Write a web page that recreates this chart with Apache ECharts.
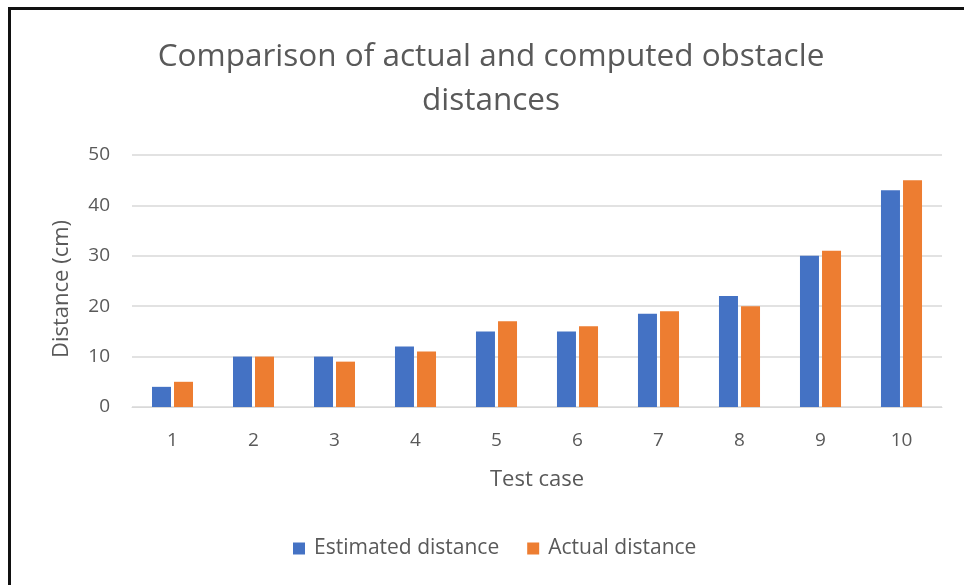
<!DOCTYPE html>
<html>
<head>
<meta charset="utf-8">
<script src="https://cdn.jsdelivr.net/npm/echarts@6/dist/echarts.min.js"></script>
<style>
  html, body { margin: 0; padding: 0; background: #fff; }
  #wrap { position: relative; width: 964px; height: 585px; overflow: hidden; background: #fff; }
  #frame { position: absolute; left: 8px; top: 7px; width: 1000px; height: 700px;
           border-top: 3px solid #111; border-left: 3px solid #111; box-sizing: border-box; }
  #chart { position: absolute; left: 0; top: 0; width: 964px; height: 585px; }
</style>
</head>
<body>
<div id="wrap">
  <div id="frame"></div>
  <div id="chart"></div>
</div>
<script>
// Test cases and measured distances (cm)
const testCases = ['1', '2', '3', '4', '5', '6', '7', '8', '9', '10'];
const estimatedDistance = [4, 10, 10, 12, 15, 15, 18.5, 22, 30, 43];
const actualDistance = [5, 10, 9, 11, 17, 16, 19, 20, 31, 45];
const yTicks = { min: 0, max: 50, interval: 10 };

const FONT = '"Open Sans", "Noto Sans", sans-serif';
const TEXT = '#595959';

const chart = echarts.init(document.getElementById('chart'), null, { renderer: 'canvas' });
chart.setOption({
  backgroundColor: 'transparent',
  animation: false,
  graphic: [
    {
      type: 'text',
      x: 491,
      y: 57,
      style: {
        text: 'Comparison of actual and computed obstacle',
        fontFamily: FONT, fontSize: 31.5, fill: TEXT,
        textAlign: 'center', textVerticalAlign: 'middle'
      }
    },
    {
      type: 'text',
      x: 491,
      y: 101,
      style: {
        text: 'distances',
        fontFamily: FONT, fontSize: 31.5, fill: TEXT,
        textAlign: 'center', textVerticalAlign: 'middle'
      }
    },
    {
      type: 'text',
      x: 62,
      y: 289,
      rotation: Math.PI / 2,
      style: {
        text: 'Distance (cm)',
        fontFamily: FONT, fontSize: 22, fill: TEXT,
        textAlign: 'center', textVerticalAlign: 'middle'
      }
    }
  ],
  legend: {
    bottom: 21,
    left: 288,
    itemWidth: 12,
    itemHeight: 12,
    itemGap: 28,
    icon: 'rect',
    textStyle: { fontFamily: FONT, fontSize: 21, color: TEXT, padding: [0, 0, 0, 4] },
    data: ['Estimated distance', 'Actual distance']
  },
  grid: { left: 132, right: 22, top: 155, bottom: 178, containLabel: false },
  xAxis: {
    type: 'category',
    data: testCases,
    name: 'Test case',
    nameLocation: 'middle',
    nameGap: 62,
    nameTextStyle: { fontFamily: FONT, fontSize: 22, color: TEXT },
    axisLine: { lineStyle: { color: '#d9d9d9', width: 1 } },
    axisTick: { show: false },
    axisLabel: { fontFamily: FONT, fontSize: 19, color: TEXT, margin: 24 }
  },
  yAxis: {
    type: 'value',
    min: yTicks.min,
    max: yTicks.max,
    interval: yTicks.interval,
    axisLine: { show: false },
    axisTick: { show: false },
    axisLabel: { fontFamily: FONT, fontSize: 19, color: TEXT, margin: 22 },
    splitLine: { lineStyle: { color: '#d9d9d9', width: 1.5 } }
  },
  series: [
    {
      name: 'Estimated distance',
      type: 'bar',
      data: estimatedDistance,
      barWidth: 19,
      barGap: '16%',
      itemStyle: { color: '#4472C4' }
    },
    {
      name: 'Actual distance',
      type: 'bar',
      data: actualDistance,
      barWidth: 19,
      barGap: '16%',
      itemStyle: { color: '#ED7D31' }
    }
  ]
});
</script>
</body>
</html>
